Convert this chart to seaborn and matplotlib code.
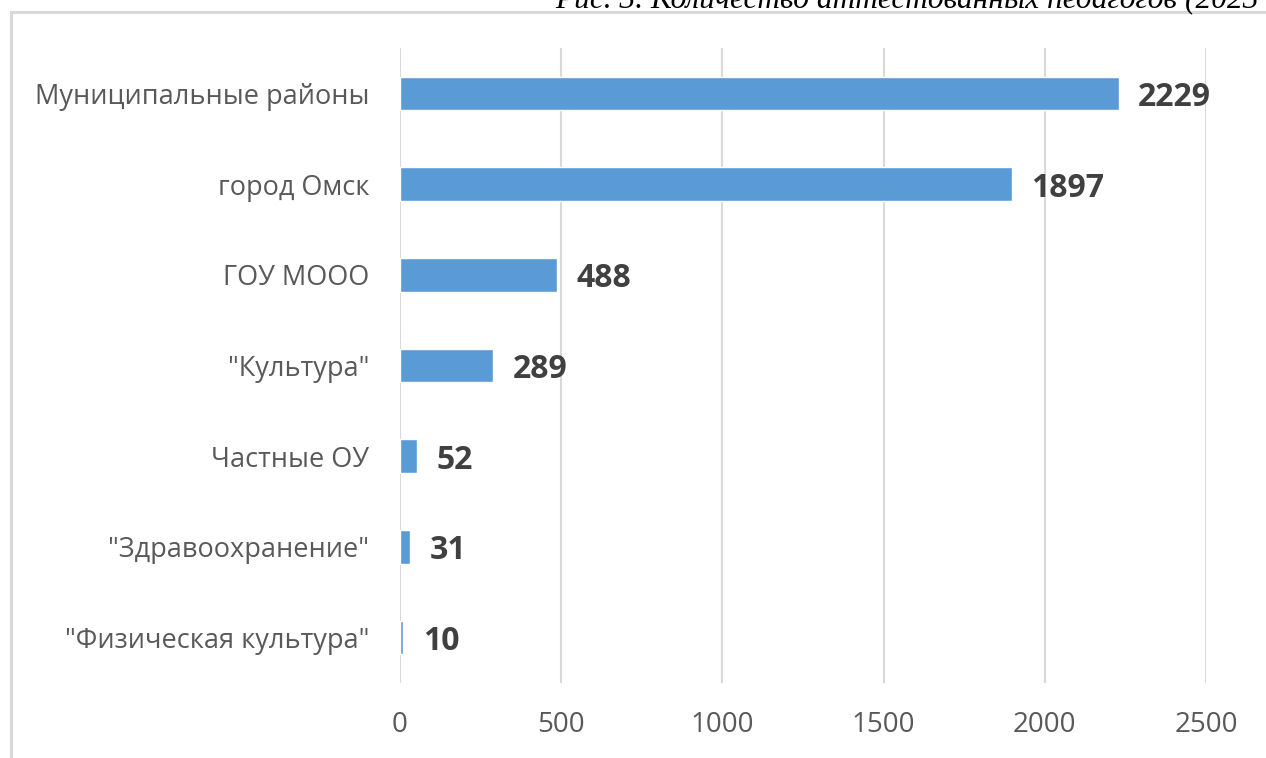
import matplotlib
matplotlib.use("Agg")
import matplotlib.pyplot as plt
import seaborn as sns
import pandas as pd
from matplotlib.patches import Rectangle

categories = [
    "Муниципальные районы",
    "город Омск",
    "ГОУ МООО",
    "\"Культура\"",
    "Частные ОУ",
    "\"Здравоохранение\"",
    "\"Физическая культура\"",
]
values = [2229, 1897, 488, 289, 52, 31, 10]
x_ticks = [0, 500, 1000, 1500, 2000, 2500]
caption = "Рис. 3. Количество аттестованных педагогов (2023 г.)"

BAR_COLOR = "#5b9bd5"
GRID_COLOR = "#d9d9d9"
TEXT_COLOR = "#595959"
LABEL_COLOR = "#404040"

sns.set_style("white")
plt.rcParams["font.family"] = ["Open Sans", "DejaVu Sans"]

df = pd.DataFrame({"category": categories, "value": values})

fig = plt.figure(figsize=(12.66, 7.58), dpi=100)
ax = fig.add_axes([400 / 1266, 75 / 758, 806 / 1266, 635 / 758])

sns.barplot(data=df, x="value", y="category", color=BAR_COLOR, width=0.37,
            orient="h", ax=ax, saturation=1)

labels = ax.bar_label(ax.containers[0], fmt="%d", padding=14, fontsize=23,
                      fontweight="bold", color=LABEL_COLOR)
for t in labels:
    t.set_va("center_baseline")

ax.set_xlim(0, 2500)
ax.set_ylim(6.5, -0.5)
ax.set_xticks(x_ticks)
ax.xaxis.grid(True, color=GRID_COLOR, linewidth=1.5)
ax.set_axisbelow(True)
ax.tick_params(axis="x", length=0, pad=20, labelsize=20, labelcolor=TEXT_COLOR)
ax.tick_params(axis="y", length=0, pad=22, labelsize=19.5, labelcolor=TEXT_COLOR)
ax.set_xlabel("")
ax.set_ylabel("")
for spine in ax.spines.values():
    spine.set_visible(False)

# outer chart frame (partly cut off at right and bottom)
frame = Rectangle((11 / 1266, -0.05), 1.2, (758 - 11.5) / 758 + 0.05,
                  transform=fig.transFigure, fill=False,
                  edgecolor=GRID_COLOR, linewidth=2.2, zorder=0)
fig.patches.append(frame)

# caption from the page above, clipped at the top edge as in the source
fig.text(555 / 1266, (758 - 7) / 758, caption, fontsize=22.6, style="italic",
         family=["Liberation Serif", "DejaVu Serif"], color="black",
         va="baseline", ha="left")

fig.savefig("out.png", dpi=100)
